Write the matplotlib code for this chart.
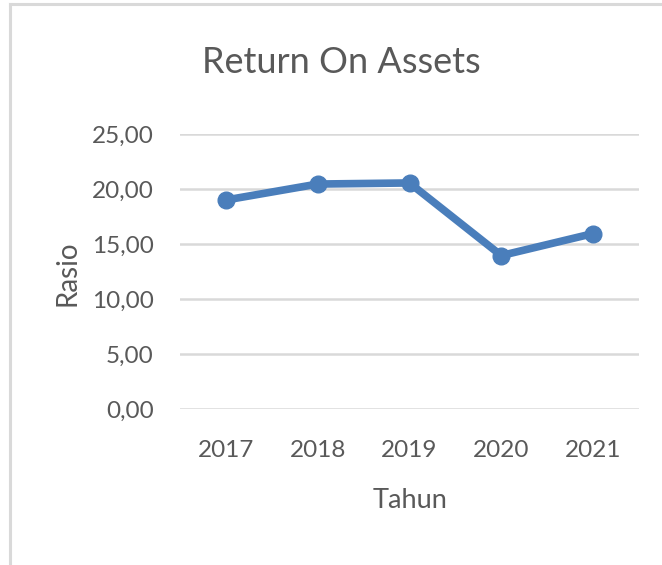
import matplotlib
matplotlib.use("Agg")
import matplotlib.pyplot as plt
from matplotlib.lines import Line2D

# Data
tahun = ["2017", "2018", "2019", "2020", "2021"]
roa = [19.00, 20.45, 20.55, 13.95, 15.95]
y_ticks = [0, 5, 10, 15, 20, 25]
y_tick_labels = ["0,00", "5,00", "10,00", "15,00", "20,00", "25,00"]

FONT = ["Lato", "DejaVu Sans"]
TEXT_COLOR = "#595959"
GRID_COLOR = "#d9d9d9"
LINE_COLOR = "#4a7ebb"

W, H = 662, 565
fig = plt.figure(figsize=(W / 100, H / 100), dpi=100)
fig.patch.set_facecolor("white")

# axes placed from pixel measurements of the reference
left, right, top, bottom = 180, 639, 134, 409
ax = fig.add_axes([left / W, 1 - bottom / H, (right - left) / W, (bottom - top) / H])

x = list(range(len(tahun)))
ax.plot(x, roa, color=LINE_COLOR, linewidth=5.5, marker="o", markersize=12,
        solid_capstyle="round", solid_joinstyle="round", zorder=3)

ax.set_xlim(-0.5, len(tahun) - 0.5)
ax.set_ylim(0, 25)
ax.set_xticks(x)
ax.set_xticklabels(tahun)
ax.set_yticks(y_ticks)
ax.set_yticklabels(y_tick_labels)

for lab in ax.get_xticklabels() + ax.get_yticklabels():
    lab.set_fontfamily(FONT)
    lab.set_fontsize(17.5)
    lab.set_color(TEXT_COLOR)

ax.tick_params(axis="both", length=0)
ax.tick_params(axis="y", pad=19)
ax.tick_params(axis="x", pad=22)

ax.yaxis.grid(True, color=GRID_COLOR, linewidth=1.8)
ax.set_axisbelow(True)
for s in ax.spines.values():
    s.set_visible(False)

# title and axis titles
fig.text(341.5 / W, 1 - 73 / H, "Return On Assets", ha="center", va="baseline",
         fontsize=26, color=TEXT_COLOR, family=FONT)
fig.text(67 / W, 1 - 273 / H, "Rasio", ha="center", va="center", rotation=90,
         fontsize=20, color=TEXT_COLOR, family=FONT)
fig.text(410 / W, 1 - 501 / H, "Tahun", ha="center", va="center",
         fontsize=19.5, color=TEXT_COLOR, family=FONT)

# chart border (top and left visible in the reference)
fig.add_artist(Line2D([9.5 / W, 1], [1 - 4 / H, 1 - 4 / H], color=GRID_COLOR,
                      linewidth=2.2, transform=fig.transFigure))
fig.add_artist(Line2D([9.5 / W, 9.5 / W], [0, 1 - 4 / H], color=GRID_COLOR,
                      linewidth=2.2, transform=fig.transFigure))

fig.savefig("out.png", dpi=100)
